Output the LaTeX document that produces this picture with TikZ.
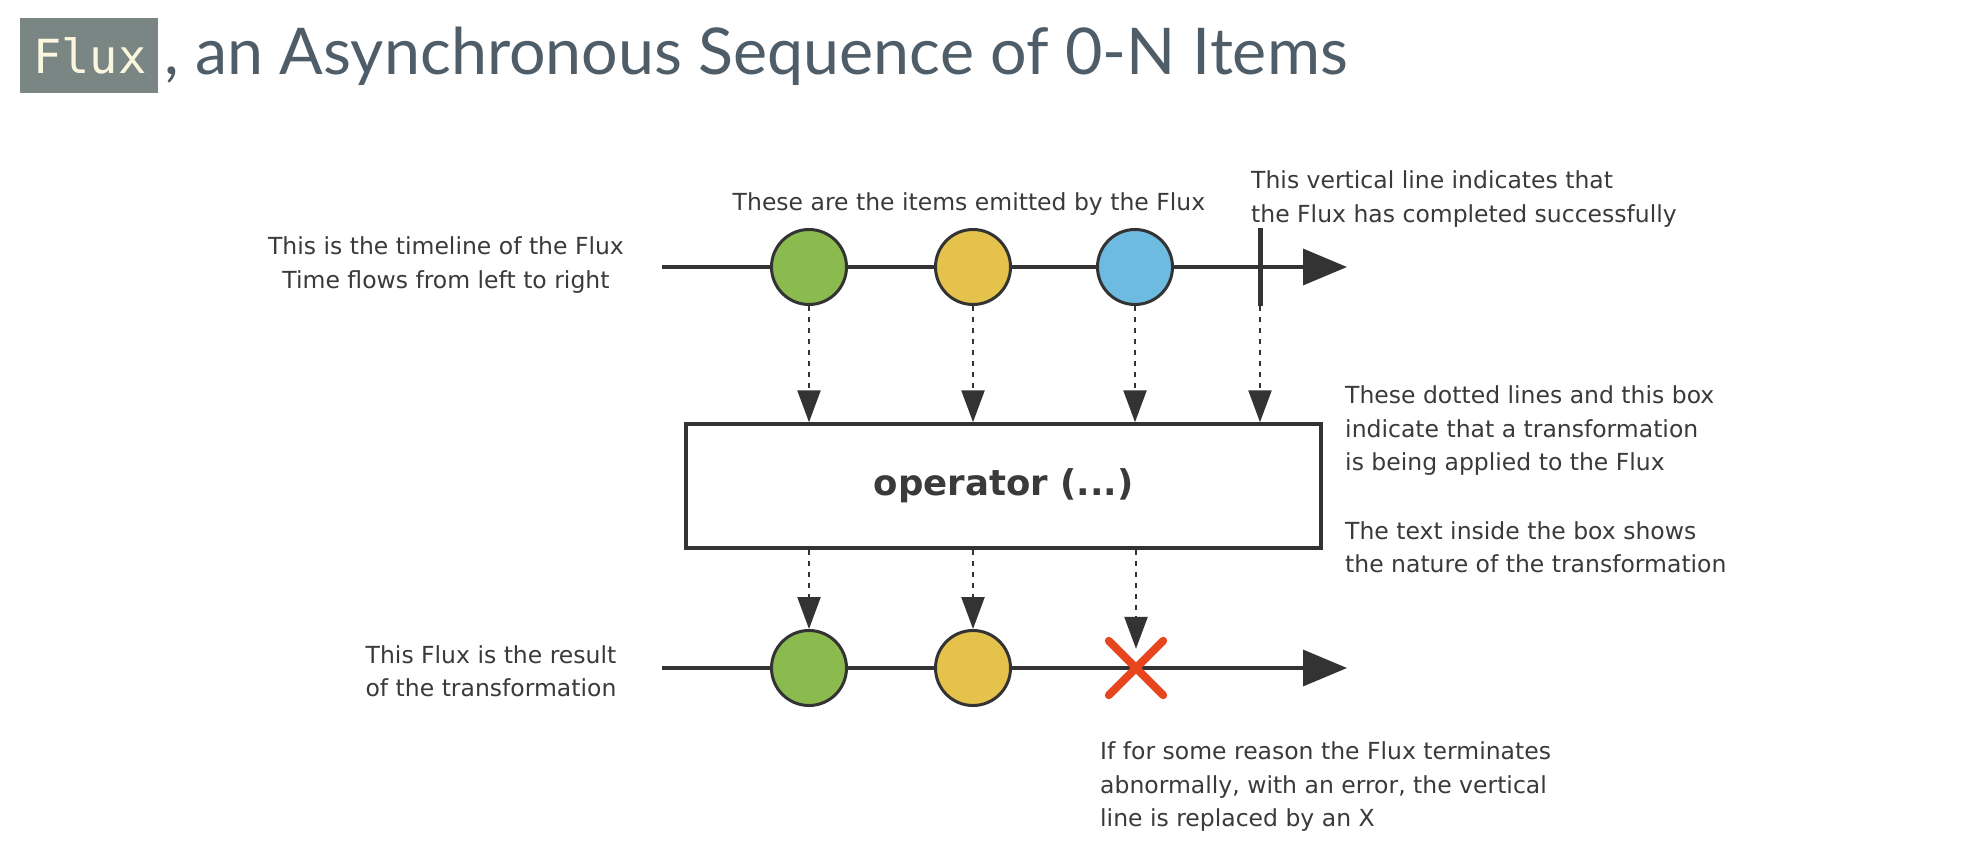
\documentclass[tikz,border=0pt]{standalone}
\usepackage{fontspec}
\setmainfont{DejaVu Sans}
\newfontfamily\titlefont{Lato}
\newfontfamily\codefont{DejaVu Sans Mono}
\usepackage{xcolor}
\usetikzlibrary{positioning, arrows.meta}

\definecolor{itemgreen}{HTML}{8BBA4F}
\definecolor{itemyellow}{HTML}{E4C24B}
\definecolor{itemblue}{HTML}{6EBBE2}
\definecolor{errred}{HTML}{E8461E}
\definecolor{linegray}{HTML}{333333}
\definecolor{notegray}{HTML}{3A3A3A}
\definecolor{titlegray}{HTML}{4E5D68}
\definecolor{codebg}{HTML}{7A8683}
\definecolor{codefg}{HTML}{FBF6DE}

\begin{document}
\begin{tikzpicture}[x=1pt, y=-1pt,
        item/.style={circle, draw=linegray, line width=3pt, minimum size=75pt, inner sep=0pt},
        timeline/.style={draw=linegray, line width=3.5pt, -{Triangle[length=44pt, width=36pt]}},
        flow/.style={draw=linegray, line width=2.5pt, dash pattern=on 5pt off 6pt, -{Triangle[length=32pt, width=23pt]}},
        note/.style={font=\fontsize{23.5}{33.5}\selectfont, text=notegray, inner sep=0pt},
        opbox/.style={rectangle, draw=linegray, line width=3.5pt, minimum width=635pt, minimum height=124pt, font=\fontsize{35.5}{40}\selectfont\bfseries, text=notegray},
        errx/.style={draw=errred, line width=8pt, line cap=round},
    ]
        \useasboundingbox[fill=white] (0,0) rectangle (1986,864);

        % Title
        \node[fill=codebg, minimum width=138pt, minimum height=75pt, inner sep=0pt] (fluxbox) at (89,55.5) {};
        \node[anchor=base, inner sep=0pt, text=codefg, font=\codefont\fontsize{47}{50}\selectfont] (fluxword) at (90,74) {Flux};
        \node[anchor=base west, inner sep=0pt, text=titlegray, font=\titlefont\fontsize{64.5}{70}\selectfont] (title) at (164,75) {, an Asynchronous Sequence of 0-N Items};

        % Source Flux
        \coordinate (srcstart) at (662,267);
        \coordinate (srcend) at (1347,267);
        \draw[timeline] (srcstart) -- (srcend);
        \node[item, fill=itemgreen] (src1) at (809,267) {};
        \node[item, fill=itemyellow] (src2) at (973,267) {};
        \node[item, fill=itemblue] (src3) at (1135,267) {};
        \node[fill=linegray, minimum width=5pt, minimum height=78pt, inner sep=0pt] (done) at (1260,267) {};

        % Operator
        \node[opbox] (op) at (1003.5,486) {operator (...)};

        \draw[flow] (src1.south) -- (src1.south |- op.north);
        \draw[flow] (src2.south) -- (src2.south |- op.north);
        \draw[flow] (src3.south) -- (src3.south |- op.north);
        \draw[flow] (done.south) -- (done.south |- op.north);

        % Result Flux
        \coordinate (resstart) at (662,668);
        \coordinate (resend) at (1347,668);
        \draw[timeline] (resstart) -- (resend);
        \node[item, fill=itemgreen] (res1) at (809,668) {};
        \node[item, fill=itemyellow] (res2) at (973,668) {};
        \node[minimum size=54pt, inner sep=0pt] (err) at (1136,668) {};
        \draw[errx] (err.north west) -- (err.south east) (err.north east) -- (err.south west);

        \draw[flow] (op.south -| res1) -- (res1.north);
        \draw[flow] (op.south -| res2) -- (res2.north);
        \draw[flow] (op.south -| err) -- ([yshift=-8pt]err.north);

        % Notes
        \node[note, align=center] (timenote) at (446,265) {This is the timeline of the Flux\\Time flows from left to right};
        \node[note] (itemnote) at (969,204) {These are the items emitted by the Flux};
        \node[note, align=left, anchor=west] (donenote) at (1251,199) {This vertical line indicates that\\the Flux has completed successfully};
        \node[note, align=left, anchor=west] (opnote) at (1345,431) {These dotted lines and this box\\indicate that a transformation\\is being applied to the Flux};
        \node[note, align=left, anchor=west] (boxnote) at (1345,547) {The text inside the box shows\\the nature of the transformation};
        \node[note, align=center] (resnote) at (491,671) {This Flux is the result\\of the transformation};
        \node[note, align=left, anchor=west] (errnote) at (1100,787) {If for some reason the Flux terminates\\abnormally, with an error, the vertical\\line is replaced by an X};
    \end{tikzpicture}
\end{document}
